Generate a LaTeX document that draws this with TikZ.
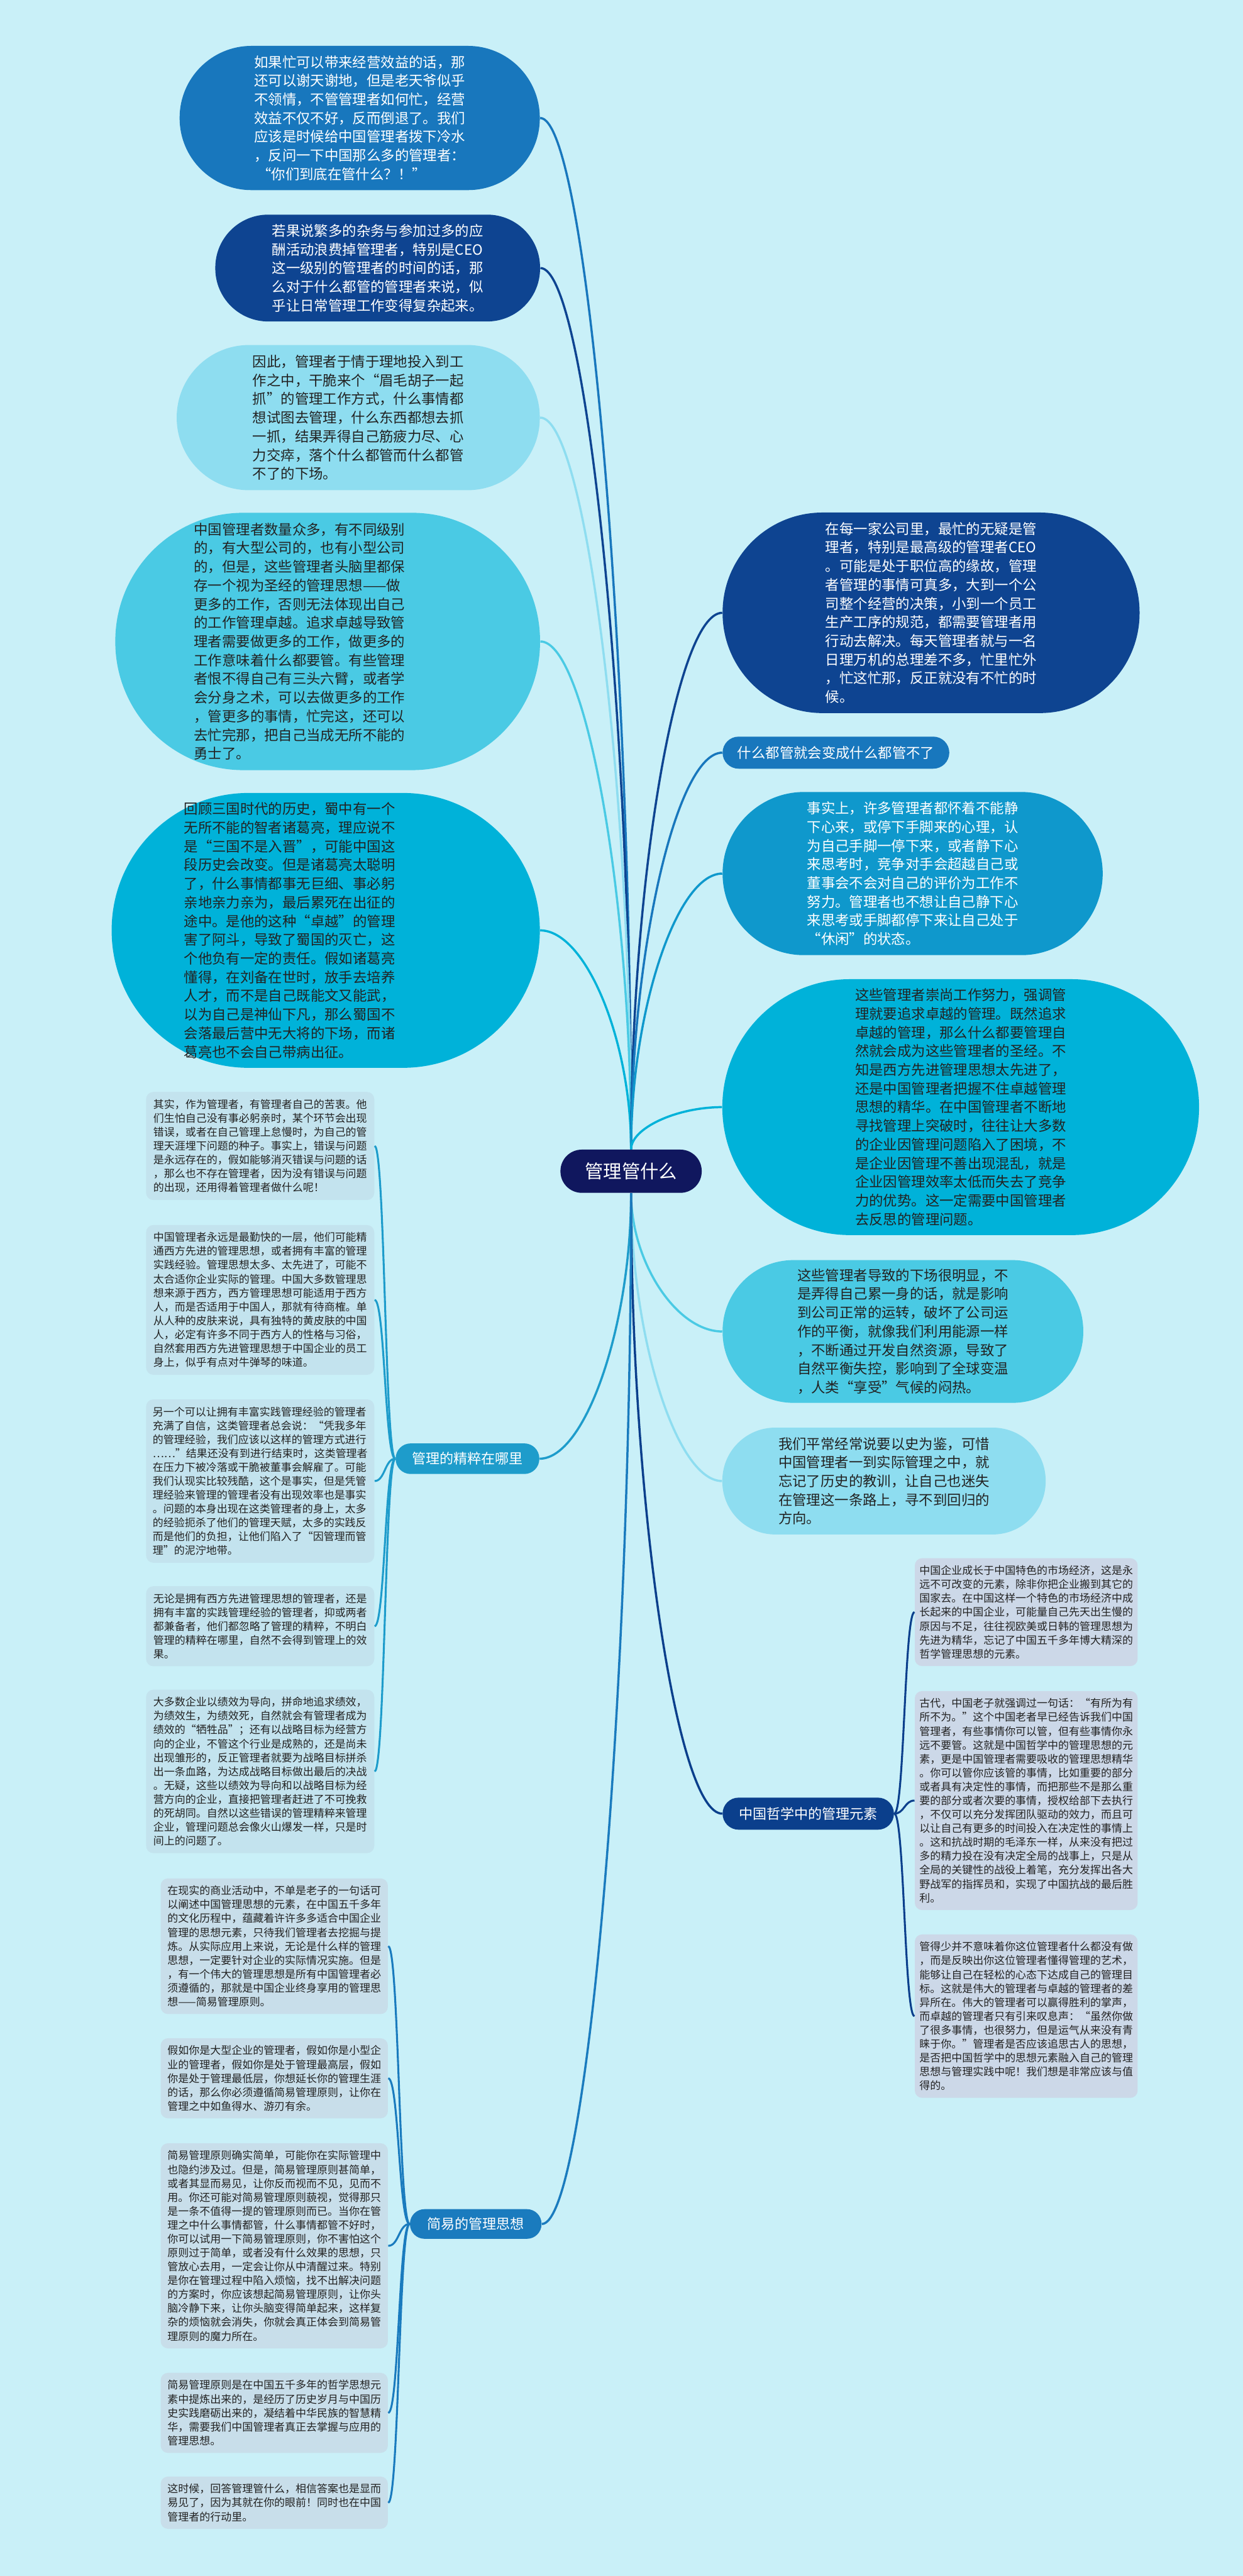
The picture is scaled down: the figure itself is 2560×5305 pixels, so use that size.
\documentclass[tikz,border=0pt]{standalone}
\usepackage{fontspec}
\setmainfont{Noto Sans CJK SC}
\usetikzlibrary{calc}

\definecolor{paper}{HTML}{C9F0F8}
\definecolor{rootnavy}{HTML}{10175E}
\definecolor{bluemid}{HTML}{1877BD}
\definecolor{bluenavy}{HTML}{0E4491}
\definecolor{bluebright}{HTML}{0F98CC}
\definecolor{tealpale}{HTML}{8EDDF0}
\definecolor{tealsoft}{HTML}{4ACAE4}
\definecolor{tealdeep}{HTML}{00B2D9}
\definecolor{branchsea}{HTML}{1E9CCB}
\definecolor{branchnavy}{HTML}{0B3F8C}
\definecolor{branchsky}{HTML}{1A7BBE}
\definecolor{notecyan}{HTML}{C3E3EE}
\definecolor{notemist}{HTML}{C8DEEA}
\definecolor{noteslate}{HTML}{CCD8E8}
\definecolor{ink}{HTML}{222222}

\newcommand\bubblefont{\fontsize{8.25}{10.95}\selectfont}
\newcommand\branchfont{\fontsize{8.14}{10}\selectfont}
\newcommand\notefont{\fontsize{6.26}{8.14}\selectfont}
\newcommand\rootfont{\fontsize{10.8}{13}\selectfont}

\tikzset{
  bubble/.style={fill=#1, align=left, inner sep=0pt, font=\bubblefont},
  hub/.style={fill=#1, text=white, align=center, inner sep=0pt, font=\branchfont},
  note/.style={fill=#1, text=ink, align=left, inner xsep=0pt, inner ysep=1.5mm,
    rounded corners=1.5mm, font=\notefont},
  trunk/.style={draw=#1, line width=0.45mm,
    to path={.. controls ($(\tikztostart)!.5!(\tikztostart|-\tikztotarget)$)
      and ($(\tikztotarget)!.5!(\tikztostart|-\tikztotarget)$) .. (\tikztotarget)}},
  twig/.style={draw=#1, line width=0.4mm,
    to path={.. controls ($(\tikztostart)!.5!(\tikztotarget|-\tikztostart)$)
      and ($(\tikztotarget)!.5!(\tikztostart|-\tikztotarget)$) .. (\tikztotarget)}},
}

\begin{document}
\begin{tikzpicture}[x=0.1mm, y=-0.1mm]
    \fill[paper] (0,0) rectangle (2560,5305);

    \node[fill=rootnavy, text=white, font=\rootfont, inner sep=0pt, minimum width=29.1mm,
      minimum height=8.9mm, rounded corners=4.4mm] (root) at (1300,2412) {管理管什么};

    % left, above the root
    \node[bubble=bluemid, text=white, minimum width=74.2mm, minimum height=29.7mm,
      rounded corners=14.8mm] (busy) at (741,243) {如果忙可以带来经营效益的话，那\\还可以谢天谢地，但是老天爷似乎\\不领情，不管管理者如何忙，经营\\效益不仅不好，反而倒退了。我们\\应该是时候给中国管理者拨下冷水\\，反问一下中国那么多的管理者：\\\ “你们到底在管什么？！”};
    \node[bubble=bluenavy, text=white, minimum width=66.9mm, minimum height=22mm,
      rounded corners=10.9mm] (chores) at (778,552) {若果说繁多的杂务与参加过多的应\\酬活动浪费掉管理者，特别是CEO\\这一级别的管理者的时间的话，那\\么对于什么都管的管理者来说，似\\乎让日常管理工作变得复杂起来。};
    \node[bubble=tealpale, text=ink, minimum width=74.8mm, minimum height=29.9mm,
      rounded corners=14.9mm] (grab) at (738,860) {因此，管理者于情于理地投入到工\\作之中，干脆来个“眉毛胡子一起\\抓”的管理工作方式，什么事情都\\想试图去管理，什么东西都想去抓\\一抓，结果弄得自己筋疲力尽、心\\力交瘁，落个什么都管而什么都管\\不了的下场。};
    \node[bubble=tealsoft, text=ink, text width=55.1mm, minimum width=87.5mm, minimum height=53mm,
      rounded corners=26.4mm] (morework) at (675,1321) {中国管理者数量众多，有不同级别\\的，有大型公司的，也有小型公司\\的，但是，这些管理者头脑里都保\\存一个视为圣经的管理思想——做\\更多的工作，否则无法体现出自己\\的工作管理卓越。追求卓越导致管\\理者需要做更多的工作，做更多的\\工作意味着什么都要管。有些管理\\者恨不得自己有三头六臂，或者学\\会分身之术，可以去做更多的工作\\，管更多的事情，忙完这，还可以\\去忙完那，把自己当成无所不能的\\勇士了。};
    \node[bubble=tealdeep, text=ink, text width=58.4mm, minimum width=88.2mm, minimum height=56.6mm,
      rounded corners=28.2mm] (zhuge) at (671,1916) {回顾三国时代的历史，蜀中有一个\\无所不能的智者诸葛亮，理应说不\\是“三国不是入晋”，可能中国这\\段历史会改变。但是诸葛亮太聪明\\了，什么事情都事无巨细、事必躬\\亲地亲力亲为，最后累死在出征的\\途中。是他的这种“卓越”的管理\\害了阿斗，导致了蜀国的灭亡，这\\个他负有一定的责任。假如诸葛亮\\懂得，在刘备在世时，放手去培养\\人才，而不是自己既能文又能武，\\以为自己是神仙下凡，那么蜀国不\\会落最后营中无大将的下场，而诸\\葛亮也不会自己带病出征。};

    % right of the root
    \node[bubble=bluenavy, text=white, minimum width=85.9mm, minimum height=41.3mm,
      rounded corners=20.6mm] (ceo) at (1918,1262) {在每一家公司里，最忙的无疑是管\\理者，特别是最高级的管理者CEO\\。可能是处于职位高的缘故，管理\\者管理的事情可真多，大到一个公\\司整个经营的决策，小到一个员工\\生产工序的规范，都需要管理者用\\行动去解决。每天管理者就与一名\\日理万机的总理差不多，忙里忙外\\，忙这忙那，反正就没有不忙的时\\候。};
    \node[hub=bluemid, font=\bubblefont, minimum width=46.7mm, minimum height=6.6mm,
      rounded corners=3.3mm] (allnone) at (1722,1550) {什么都管就会变成什么都管不了};
    \node[bubble=bluebright, text=white, minimum width=78.3mm, minimum height=33.6mm,
      rounded corners=16.8mm] (restless) at (1880,1799) {事实上，许多管理者都怀着不能静\\下心来，或停下手脚来的心理，认\\为自己手脚一停下来，或者静下心\\来思考时，竞争对手会超越自己或\\董事会不会对自己的评价为工作不\\努力。管理者也不想让自己静下心\\来思考或手脚都停下来让自己处于\\“休闲”的状态。};
    \node[bubble=tealdeep, text=ink, minimum width=98.2mm, minimum height=52.7mm,
      rounded corners=26.3mm] (excel) at (1979,2280) {这些管理者崇尚工作努力，强调管\\理就要追求卓越的管理。既然追求\\卓越的管理，那么什么都要管理自\\然就会成为这些管理者的圣经。不\\知是西方先进管理思想太先进了，\\还是中国管理者把握不住卓越管理\\思想的精华。在中国管理者不断地\\寻找管理上突破时，往往让大多数\\的企业因管理问题陷入了困境，不\\是企业因管理不善出现混乱，就是\\企业因管理效率太低而失去了竞争\\力的优势。这一定需要中国管理者\\去反思的管理问题。};
    \node[bubble=tealsoft, text=ink, minimum width=74.3mm, minimum height=29.4mm,
      rounded corners=14.6mm] (outcome) at (1860,2742) {这些管理者导致的下场很明显，不\\是弄得自己累一身的话，就是影响\\到公司正常的运转，破坏了公司运\\作的平衡，就像我们利用能源一样\\，不断通过开发自然资源，导致了\\自然平衡失控，影响到了全球变温\\，人类“享受”气候的闷热。};
    \node[bubble=tealpale, text=ink, minimum width=66.6mm, minimum height=22mm,
      rounded corners=10.9mm] (history) at (1821,3050) {我们平常经常说要以史为鉴，可惜\\中国管理者一到实际管理之中，就\\忘记了历史的教训，让自己也迷失\\在管理这一条路上，寻不到回归的\\方向。};

    % branches
    \node[hub=branchsea, minimum width=29.6mm, minimum height=6.3mm,
      rounded corners=3.1mm] (essence) at (963,3004) {管理的精粹在哪里};
    \node[hub=branchnavy, minimum width=35.3mm, minimum height=6.6mm,
      rounded corners=3.3mm] (philo) at (1665,3735) {中国哲学中的管理元素};
    \node[hub=branchsky, minimum width=27.1mm, minimum height=6.1mm,
      rounded corners=3mm] (simple) at (980,4580) {简易的管理思想};

    \node[note=notecyan, minimum width=47mm] (ess1) at (536,2360) {其实，作为管理者，有管理者自己的苦衷。他\\们生怕自己没有事必躬亲时，某个环节会出现\\错误，或者在自己管理上怠慢时，为自己的管\\理天涯埋下问题的种子。事实上，错误与问题\\是永远存在的，假如能够消灭错误与问题的话\\，那么也不存在管理者，因为没有错误与问题\\的出现，还用得着管理者做什么呢！};
    \node[note=notecyan, minimum width=47mm] (ess2) at (536,2677) {中国管理者永远是最勤快的一层，他们可能精\\通西方先进的管理思想，或者拥有丰富的管理\\实践经验。管理思想太多、太先进了，可能不\\太合适你企业实际的管理。中国大多数管理思\\想来源于西方，西方管理思想可能适用于西方\\人，而是否适用于中国人，那就有待商榷。单\\从人种的皮肤来说，具有独特的黄皮肤的中国\\人，必定有许多不同于西方人的性格与习俗，\\自然套用西方先进管理思想于中国企业的员工\\身上，似乎有点对牛弹琴的味道。};
    \node[note=notecyan, minimum width=47mm] (ess3) at (536,3050) {另一个可以让拥有丰富实践管理经验的管理者\\充满了自信，这类管理者总会说：“凭我多年\\的管理经验，我们应该以这样的管理方式进行\\……”结果还没有到进行结束时，这类管理者\\在压力下被冷落或干脆被董事会解雇了。可能\\我们认现实比较残酷，这个是事实，但是凭管\\理经验来管理的管理者没有出现效率也是事实\\。问题的本身出现在这类管理者的身上，太多\\的经验扼杀了他们的管理天赋，太多的实践反\\而是他们的负担，让他们陷入了“因管理而管\\理”的泥泞地带。};
    \node[note=notecyan, minimum width=47mm] (ess4) at (536,3349) {无论是拥有西方先进管理思想的管理者，还是\\拥有丰富的实践管理经验的管理者，抑或两者\\都兼备者，他们都忽略了管理的精粹，不明白\\管理的精粹在哪里，自然不会得到管理上的效\\果。};
    \node[note=notecyan, minimum width=47mm] (ess5) at (536,3648) {大多数企业以绩效为导向，拼命地追求绩效，\\为绩效生，为绩效死，自然就会有管理者成为\\绩效的“牺牲品”；还有以战略目标为经营方\\向的企业，不管这个行业是成熟的，还是尚未\\出现雏形的，反正管理者就要为战略目标拼杀\\出一条血路，为达成战略目标做出最后的决战\\。无疑，这些以绩效为导向和以战略目标为经\\营方向的企业，直接把管理者赶进了不可挽救\\的死胡同。自然以这些错误的管理精粹来管理\\企业，管理问题总会像火山爆发一样，只是时\\间上的问题了。};

    \node[note=noteslate, minimum width=45.9mm] (phi1) at (2114,3320) {中国企业成长于中国特色的市场经济，这是永\\远不可改变的元素，除非你把企业搬到其它的\\国家去。在中国这样一个特色的市场经济中成\\长起来的中国企业，可能量自己先天出生慢的\\原因与不足，往往视欧美或日韩的管理思想为\\先进为精华，忘记了中国五千多年博大精深的\\哲学管理思想的元素。};
    \node[note=noteslate, minimum width=45.9mm] (phi2) at (2114,3708) {古代，中国老子就强调过一句话：“有所为有\\所不为。”这个中国老者早已经告诉我们中国\\管理者，有些事情你可以管，但有些事情你永\\远不要管。这就是中国哲学中的管理思想的元\\素，更是中国管理者需要吸收的管理思想精华\\。你可以管你应该管的事情，比如重要的部分\\或者具有决定性的事情，而把那些不是那么重\\要的部分或者次要的事情，授权给部下去执行\\，不仅可以充分发挥团队驱动的效力，而且可\\以让自己有更多的时间投入在决定性的事情上\\。这和抗战时期的毛泽东一样，从来没有把过\\多的精力投在没有决定全局的战事上，只是从\\全局的关键性的战役上着笔，充分发挥出各大\\野战军的指挥员和，实现了中国抗战的最后胜\\利。};
    \node[note=noteslate, minimum width=45.9mm] (phi3) at (2114,4152) {管得少并不意味着你这位管理者什么都没有做\\，而是反映出你这位管理者懂得管理的艺术，\\能够让自己在轻松的心态下达成自己的管理目\\标。这就是伟大的管理者与卓越的管理者的差\\异所在。伟大的管理者可以赢得胜利的掌声，\\而卓越的管理者只有引来叹息声：“虽然你做\\了很多事情，也很努力，但是运气从来没有青\\睐于你。”管理者是否应该追思古人的思想，\\是否把中国哲学中的思想元素融入自己的管理\\思想与管理实践中呢！我们想是非常应该与值\\得的。};

    \node[note=notemist, minimum width=46.8mm] (sim1) at (565,4008) {在现实的商业活动中，不单是老子的一句话可\\以阐述中国管理思想的元素，在中国五千多年\\的文化历程中，蕴藏着许许多多适合中国企业\\管理的思想元素，只待我们管理者去挖掘与提\\炼。从实际应用上来说，无论是什么样的管理\\思想，一定要针对企业的实际情况实施。但是\\，有一个伟大的管理思想是所有中国管理者必\\须遵循的，那就是中国企业终身享用的管理思\\想——简易管理原则。};
    \node[note=notemist, minimum width=46.8mm] (sim2) at (565,4280) {假如你是大型企业的管理者，假如你是小型企\\业的管理者，假如你是处于管理最高层，假如\\你是处于管理最低层，你想延长你的管理生涯\\的话，那么你必须遵循简易管理原则，让你在\\管理之中如鱼得水、游刃有余。};
    \node[note=notemist, minimum width=46.8mm] (sim3) at (565,4625) {简易管理原则确实简单，可能你在实际管理中\\也隐约涉及过。但是，简易管理原则甚简单，\\或者其显而易见，让你反而视而不见，见而不\\用。你还可能对简易管理原则藐视，觉得那只\\是一条不值得一提的管理原则而已。当你在管\\理之中什么事情都管，什么事情都管不好时，\\你可以试用一下简易管理原则，你不害怕这个\\原则过于简单，或者没有什么效果的思想，只\\管放心去用，一定会让你从中清醒过来。特别\\是你在管理过程中陷入烦恼，找不出解决问题\\的方案时，你应该想起简易管理原则，让你头\\脑冷静下来，让你头脑变得简单起来，这样复\\杂的烦恼就会消失，你就会真正体会到简易管\\理原则的魔力所在。};
    \node[note=notemist, minimum width=46.8mm] (sim4) at (565,4969) {简易管理原则是在中国五千多年的哲学思想元\\素中提炼出来的，是经历了历史岁月与中国历\\史实践磨砺出来的，凝结着中华民族的智慧精\\华，需要我们中国管理者真正去掌握与应用的\\管理思想。};
    \node[note=notemist, minimum width=46.8mm] (sim5) at (565,5154) {这时候，回答管理管什么，相信答案也是显而\\易见了，因为其就在你的眼前！同时也在中国\\管理者的行动里。};

    % links from the root
    \draw[trunk=bluemid] (root.north) to (busy.east);
    \draw[trunk=bluenavy] (root.north) to (chores.east);
    \draw[trunk=tealpale] (root.north) to (grab.east);
    \draw[trunk=tealsoft] (root.north) to (morework.east);
    \draw[trunk=tealdeep] (root.north) to (zhuge.east);
    \draw[trunk=bluenavy] (root.north) to (ceo.west);
    \draw[trunk=bluemid] (root.north) to (allnone.west);
    \draw[trunk=bluebright] (root.north) to (restless.west);
    \draw[trunk=tealdeep] (root.north) to (excel.west);
    \draw[trunk=tealsoft] (root.south) to (outcome.west);
    \draw[trunk=tealpale] (root.south) to (history.west);
    \draw[trunk=branchsea] (root.south) to (essence.east);
    \draw[trunk=branchnavy] (root.south) to (philo.west);
    \draw[trunk=branchsky] (root.south) to (simple.east);

    % links from the branches
    \foreach \n in {ess1,ess2,ess3,ess4,ess5}
        \draw[twig=branchsea] (essence.west) to (\n.east);
    \foreach \n in {phi1,phi2,phi3}
        \draw[twig=branchnavy] (philo.east) to (\n.west);
    \foreach \n in {sim1,sim2,sim3,sim4,sim5}
        \draw[twig=branchsky] (simple.west) to (\n.east);
\end{tikzpicture}
\end{document}
